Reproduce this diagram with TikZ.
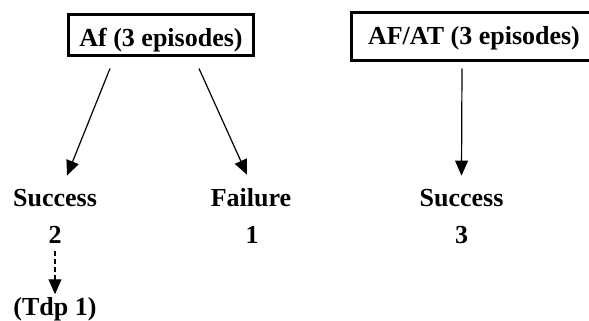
\documentclass[tikz,border=0pt]{standalone}
\usepackage{fontspec}
\setmainfont{Liberation Serif}
\usetikzlibrary{arrows.meta}
\tikzset{
	episode/.style={draw, line width=3pt, anchor=base, inner xsep=11pt, inner ysep=3pt,
		font=\bfseries\fontsize{26}{30}\selectfont},
	outcome/.style={anchor=base, inner sep=0pt, font=\bfseries\fontsize{26}{30}\selectfont},
	pointer/.style={line width=1.2pt, -{Triangle[length=15pt,width=13pt]}}
}
\begin{document}
		\begin{tikzpicture}[x=1pt,y=-1pt]
			\useasboundingbox (0,0) rectangle (589,321);
			\node[episode, text height=29.5pt, text depth=5.5pt] (af) at (161,47) {Af (3 episodes)};
			\node[episode, minimum width=246pt, text height=29.5pt, text depth=12.5pt] (afat) at (474,45) {AF/AT (3 episodes)};
			\foreach \n/\x/\y/\t in {s1/55/206/Success, n1/55/243/2, f1/251/206/Failure, n2/252/243/1,
				s2/461.5/206/Success, n3/461.5/243/3, tdp/55/315.5/(Tdp 1)}{
				\node[outcome] (\n) at (\x,\y) {\t};
			}
			\draw[pointer] ([xshift=-51pt,yshift=-11.5pt]af.south) -- ([xshift=12pt,yshift=13pt]s1.north);
			\draw[pointer] ([xshift=38pt,yshift=-11.5pt]af.south) -- ([xshift=-4pt,yshift=13pt]f1.north);
			\draw[pointer] ([xshift=-12pt,yshift=-6.5pt]afat.south) -- ([yshift=13pt]s2.north);
			\draw[pointer, dash pattern=on 5pt off 3pt] ([yshift=-8pt]n1.south) -- ([yshift=3pt]tdp.north);
		\end{tikzpicture}
\end{document}
